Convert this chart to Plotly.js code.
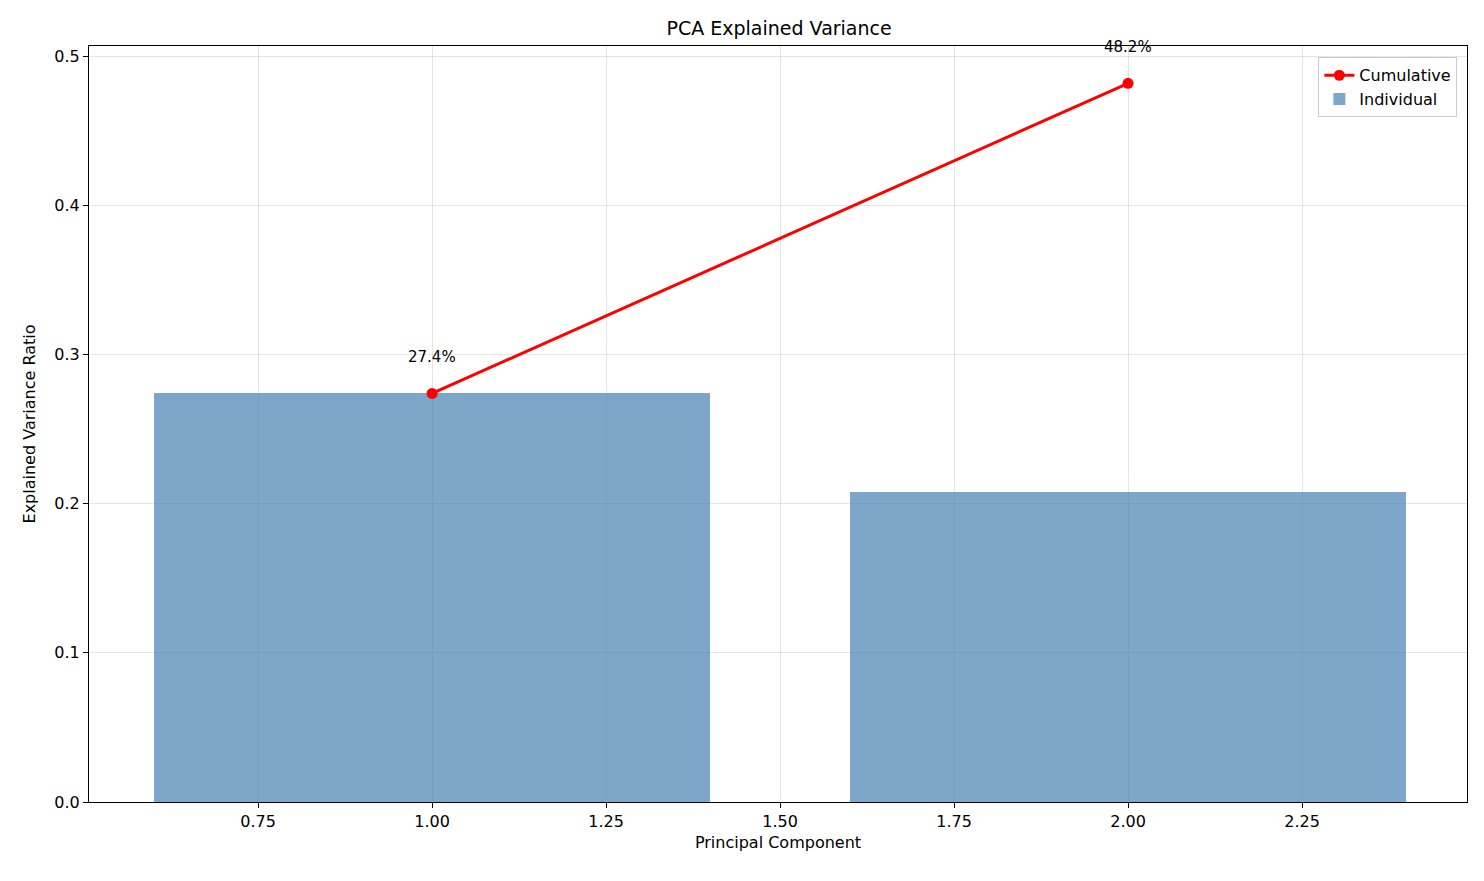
<!DOCTYPE html>
<html>
<head>
<script src="https://cdn.plot.ly/plotly-3.0.1.min.js"></script>
<style>body{margin:0}#chart{width:1484px;height:881px}</style>
</head>
<body>
<div id="chart"></div>
<script>
const components = [1, 2];
const individual = [0.274, 0.208];
const cumulative = [0.274, 0.482];
const labels = ['27.4%', '48.2%'];

let data = [
	{
		x: components, y: cumulative, mode: 'lines+markers', name: 'Cumulative',
		line: {color: 'red', width: 3}, marker: {color: 'red', size: 11}
	},
	{
		x: components, y: individual, type: 'bar', name: 'Individual', width: 0.8,
		marker: {color: 'rgba(70,130,180,0.7)'}
	}
];

let annotations = components.map((c, i) => ({
	x: c, y: cumulative[i], text: labels[i], showarrow: false,
	yshift: 36, font: {size: 15, color: 'black'}
}));

let axisStyle = {
	showline: true, mirror: true, linecolor: 'black', linewidth: 1,
	ticks: 'outside', ticklen: 5, tickcolor: 'black',
	gridcolor: 'rgba(0,0,0,0.1)', zeroline: false,
	tickfont: {size: 16, color: 'black'}
};

let layout = {
	font: {family: 'DejaVu Sans', color: 'black'},
	title: {text: 'PCA Explained Variance', x: 0.525, y: 0.975, font: {size: 19}},
	margin: {l: 89, r: 17, t: 46, b: 79},
	paper_bgcolor: 'white', plot_bgcolor: 'white',
	xaxis: Object.assign({}, axisStyle, {
		range: [0.507, 2.487], tickvals: [0.75, 1, 1.25, 1.5, 1.75, 2, 2.25],
		ticktext: ['0.75', '1.00', '1.25', '1.50', '1.75', '2.00', '2.25'],
		title: {text: 'Principal Component', font: {size: 16}, standoff: 6}
	}),
	yaxis: Object.assign({}, axisStyle, {
		range: [0, 0.507], tickvals: [0, 0.1, 0.2, 0.3, 0.4, 0.5],
		ticktext: ['0.0', '0.1', '0.2', '0.3', '0.4', '0.5'],
		title: {text: 'Explained Variance Ratio', font: {size: 16}, standoff: 14}
	}),
	legend: {
		x: 0.993, y: 0.985, xanchor: 'right', yanchor: 'top',
		bordercolor: '#ccc', borderwidth: 1, bgcolor: 'rgba(255,255,255,0.8)',
		font: {size: 16}, traceorder: 'normal'
	},
	annotations: annotations,
	bargap: 0
};

Plotly.newPlot('chart', data, layout, {displayModeBar: false});
</script>
</body>
</html>
